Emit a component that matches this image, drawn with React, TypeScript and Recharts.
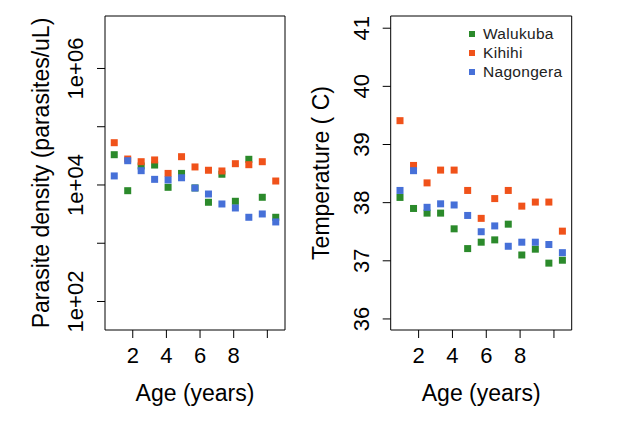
import React from "react";
import {
  ScatterChart,
  Scatter,
  XAxis,
  YAxis,
  ReferenceArea,
  Legend,
} from "recharts";

const AGES = [0.9, 1.7, 2.5, 3.3, 4.1, 4.9, 5.7, 6.5, 7.3, 8.1, 8.9, 9.7, 10.5];

const SITES = ["Walukuba", "Kihihi", "Nagongera"];
const COLORS = ["#2b8a2b", "#f0521a", "#4670d8"];

const DENSITY_WALUKUBA = [33100, 7980, 21200, 22000, 9120, 15800, 8900, 5050, 15300, 5250, 27600, 6150, 2790];
const DENSITY_KIHIHI = [53200, 27900, 25100, 26900, 15800, 30600, 20400, 17900, 17400, 23200, 22300, 25100, 11700];
const DENSITY_NAGONGERA = [14300, 26100, 17600, 12500, 12200, 13300, 8870, 7000, 4720, 4030, 2790, 3180, 2320];

const TEMP_WALUKUBA = [38.09, 37.9, 37.82, 37.82, 37.55, 37.21, 37.32, 37.36, 37.63, 37.1, 37.2, 36.96, 37.01];
const TEMP_KIHIHI = [39.41, 38.64, 38.34, 38.56, 38.56, 38.21, 37.73, 38.07, 38.21, 37.94, 38.01, 38.01, 37.51];
const TEMP_NAGONGERA = [38.21, 38.55, 37.92, 37.98, 37.96, 37.78, 37.5, 37.6, 37.25, 37.32, 37.32, 37.28, 37.14];

const AGE_TICKS = [2, 4, 6, 8, 10];
const AGE_LABELS = ["2", "4", "6", "8", ""];
const DENSITY_TICKS = [1e2, 1e3, 1e4, 1e5, 1e6];
const DENSITY_LABELS = ["1e+02", "", "1e+04", "", "1e+06"];
const TEMP_TICKS = [36, 37, 38, 39, 40, 41];
const TEMP_LABELS = ["36", "37", "38", "39", "40", "41"];

const X_DOMAIN: [number, number] = [0.35, 11.05];
const DENSITY_DOMAIN: [number, number] = [32.4, 7.96e6];
const TEMP_DOMAIN: [number, number] = [35.81, 41.21];

const FONT = "'Liberation Sans', Arial, sans-serif";

const toPoints = (ys: number[]) => AGES.map((age, i) => ({ age, value: ys[i] }));

const densitySeries = [DENSITY_WALUKUBA, DENSITY_KIHIHI, DENSITY_NAGONGERA].map(toPoints);
const tempSeries = [TEMP_WALUKUBA, TEMP_KIHIHI, TEMP_NAGONGERA].map(toPoints);

function Square(color: string) {
  return (props: any) => {
    const { cx, cy } = props;
    if (cx == null || cy == null) return <g />;
    return <rect x={cx - 3.5} y={cy - 3.5} width={7} height={7} fill={color} />;
  };
}

function rotatedTick(ticks: number[], labels: string[]) {
  return (props: any) => {
    const { x, y, payload } = props;
    const idx = ticks.indexOf(payload.value);
    const text = idx >= 0 ? labels[idx] : "";
    return (
      <text
        x={x}
        y={y}
        transform={`rotate(-90 ${x} ${y})`}
        textAnchor="middle"
        fontSize={22}
        fontFamily={FONT}
        fill="#000"
      >
        {text}
      </text>
    );
  };
}

function yTitle(text: string, baseX: number) {
  return (props: any) => {
    const vb = props.viewBox || { y: 16, height: 314 };
    const cy = vb.y + vb.height / 2;
    return (
      <text
        x={baseX}
        y={cy}
        transform={`rotate(-90 ${baseX} ${cy})`}
        textAnchor="middle"
        fontSize={23}
        fontFamily={FONT}
        fill="#000"
      >
        {text}
      </text>
    );
  };
}

function LegendBox() {
  return (
    <div style={{ fontFamily: FONT, fontSize: 15.5, color: "#222", lineHeight: "19px" }}>
      {SITES.map((s, i) => (
        <div key={s} style={{ display: "flex", alignItems: "center", whiteSpace: "nowrap" }}>
          <span
            style={{
              display: "inline-block",
              width: 6,
              height: 6,
              background: COLORS[i],
              marginRight: 8,
            }}
          />
          <span style={{ letterSpacing: 0.3 }}>{s}</span>
        </div>
      ))}
    </div>
  );
}

const xAxisProps = {
  type: "number" as const,
  dataKey: "age",
  domain: X_DOMAIN,
  ticks: AGE_TICKS,
  allowDataOverflow: true,
  axisLine: false,
  tickLine: { stroke: "#000" },
  tickSize: 8,
  tickMargin: 9,
  height: 30,
  tickFormatter: (v: number) => AGE_LABELS[AGE_TICKS.indexOf(v)] ?? "",
  tick: { fontSize: 22, fill: "#000", fontFamily: FONT },
  interval: 0 as const,
  label: {
    value: "Age (years)",
    position: "bottom" as const,
    offset: 25,
    fontSize: 23,
    fill: "#000",
    fontFamily: FONT,
  },
};

export default function App() {
  return (
    <div
      style={{
        position: "fixed",
        left: 0,
        top: 0,
        width: 617,
        height: 424,
        background: "#fff",
      }}
    >
      <div style={{ position: "absolute", left: 0, top: 0 }}>
        <ScatterChart width={300} height={424} margin={{ top: 16, right: 15, bottom: 64, left: 45 }}>
          <XAxis {...xAxisProps} />
          <YAxis
            type="number"
            dataKey="value"
            scale="log"
            domain={DENSITY_DOMAIN}
            ticks={DENSITY_TICKS}
            allowDataOverflow
            interval={0}
            width={60}
            axisLine={false}
            tickLine={{ stroke: "#000" }}
            tickSize={8}
            tickMargin={13.5}
            tick={rotatedTick(DENSITY_TICKS, DENSITY_LABELS)}
            label={{ content: yTitle("Parasite density (parasites/uL)", 49) }}
          />
          <ReferenceArea
            x1={X_DOMAIN[0]}
            x2={X_DOMAIN[1]}
            y1={DENSITY_DOMAIN[0]}
            y2={DENSITY_DOMAIN[1]}
            fill="none"
            fillOpacity={0}
            stroke="#000"
            strokeWidth={1}
            ifOverflow="visible"
          />
          {densitySeries.map((d, i) => (
            <Scatter
              key={SITES[i]}
              name={SITES[i]}
              data={d}
              fill={COLORS[i]}
              shape={Square(COLORS[i])}
              isAnimationActive={false}
            />
          ))}
        </ScatterChart>
      </div>
      <div style={{ position: "absolute", left: 300, top: 0 }}>
        <ScatterChart width={317} height={424} margin={{ top: 16, right: 45.3, bottom: 64, left: 30.7 }}>
          <XAxis {...xAxisProps} />
          <YAxis
            type="number"
            dataKey="value"
            domain={TEMP_DOMAIN}
            ticks={TEMP_TICKS}
            allowDataOverflow
            interval={0}
            width={60}
            axisLine={false}
            tickLine={{ stroke: "#000" }}
            tickSize={8}
            tickMargin={13.5}
            tick={rotatedTick(TEMP_TICKS, TEMP_LABELS)}
            label={{ content: yTitle("Temperature ( C)", 29) }}
          />
          <ReferenceArea
            x1={X_DOMAIN[0]}
            x2={X_DOMAIN[1]}
            y1={TEMP_DOMAIN[0]}
            y2={TEMP_DOMAIN[1]}
            fill="none"
            fillOpacity={0}
            stroke="#000"
            strokeWidth={1}
            ifOverflow="visible"
          />
          {tempSeries.map((d, i) => (
            <Scatter
              key={SITES[i]}
              name={SITES[i]}
              data={d}
              fill={COLORS[i]}
              shape={Square(COLORS[i])}
              isAnimationActive={false}
            />
          ))}
          <Legend
            layout="horizontal"
            verticalAlign="middle"
            align="center"
            wrapperStyle={{ top: 24, left: 169, width: 130, height: 60 }}
            content={() => <LegendBox />}
          />
        </ScatterChart>
      </div>
    </div>
  );
}
